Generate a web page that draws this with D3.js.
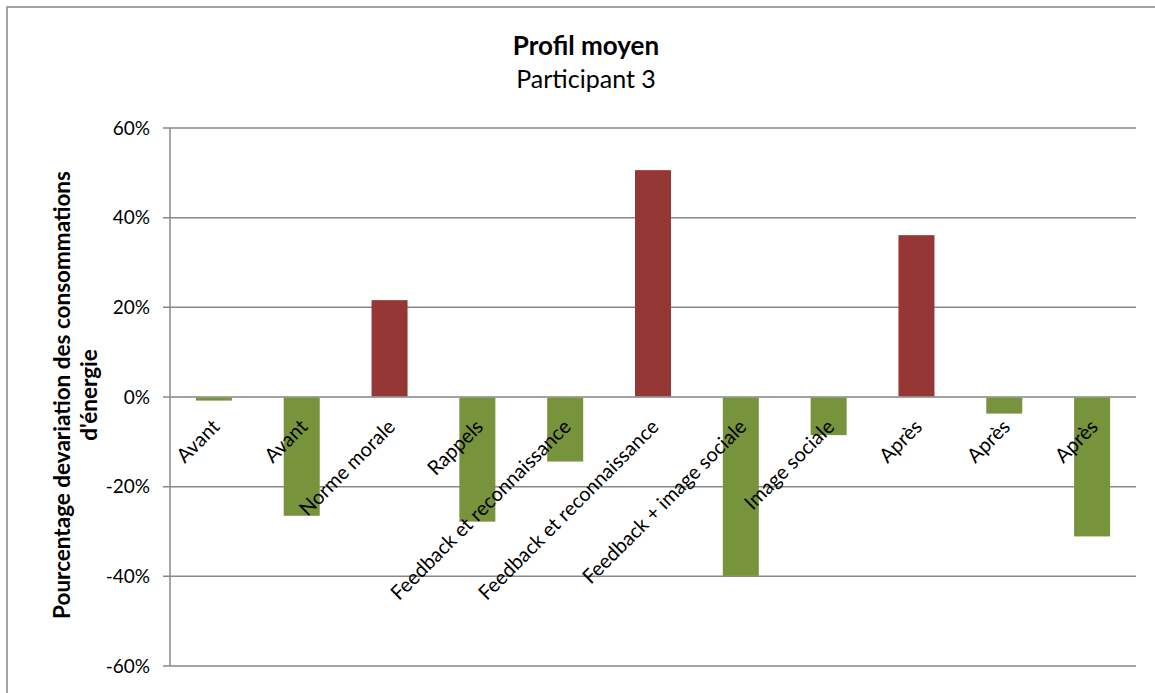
<!DOCTYPE html>
<html><head><meta charset="utf-8">
<script src="https://cdn.jsdelivr.net/npm/d3@7"></script>
<style>body{margin:0;background:#fff}svg{display:block}</style>
</head><body>
<svg id="c" width="1155" height="693"></svg>
<script>
const categories = ["Avant","Avant","Norme morale","Rappels","Feedback et reconnaissance","Feedback et reconnaissance","Feedback + image sociale","Image sociale","Après","Après","Après"];
const values = [-0.8,-26.5,21.6,-27.8,-14.4,50.6,-39.9,-8.5,36.1,-3.7,-31.1];
const yTicks = [-60,-40,-20,0,20,40,60];
const title = "Profil moyen";
const subtitle = "Participant 3";
const yTitle = ["Pourcentage devariation des consommations","d'énergie"];

(function(){
const svg = d3.select("#c");
const font = "Lato, 'Liberation Sans', sans-serif";
const grid = "#888888";
const pLeft = 170, pRight = 1136, pTop = 128, pBottom = 666;

svg.append("rect").attr("x",7).attr("y",7).attr("width",1160).attr("height",700)
  .attr("fill","none").attr("stroke","#878787").attr("stroke-width",1.5);

const x = d3.scaleBand().domain(d3.range(categories.length)).range([pLeft,pRight]).paddingInner(0.59).paddingOuter(0.295);
const y = d3.scaleLinear().domain([-60,60]).range([pBottom,pTop]);

svg.append("g").selectAll("line").data(yTicks).join("line")
  .attr("x1",pLeft-7).attr("x2",pRight).attr("y1",d=>y(d)).attr("y2",d=>y(d))
  .attr("stroke",grid).attr("stroke-width",1.5);
svg.append("line").attr("x1",pLeft).attr("x2",pLeft).attr("y1",pTop).attr("y2",pBottom)
  .attr("stroke",grid).attr("stroke-width",1.5);

svg.append("g").selectAll("rect").data(values).join("rect")
  .attr("x",(d,i)=>x(i)).attr("width",x.bandwidth())
  .attr("y",d=>y(Math.max(0,d))).attr("height",d=>Math.abs(y(d)-y(0)))
  .attr("fill",d=>d>=0?"#953735":"#77933C");

svg.append("line").attr("x1",pLeft).attr("x2",pRight).attr("y1",y(0)).attr("y2",y(0))
  .attr("stroke","#a0a0a0").attr("stroke-width",1.5);

svg.append("g").selectAll("text").data(yTicks).join("text")
  .attr("x",150).attr("y",d=>y(d)).attr("dy","0.35em").attr("text-anchor","end")
  .attr("font-family",font).attr("font-size",19).attr("fill","#000")
  .text(d=>d+"%");

svg.append("g").selectAll("text").data(categories).join("text")
  .attr("transform",(d,i)=>`translate(${x(i)+x.bandwidth()/2+7},${428}) rotate(-45)`)
  .attr("text-anchor","end").attr("font-family",font).attr("font-size",20).attr("fill","#000")
  .text(d=>d);

svg.append("text").attr("x",586).attr("y",55).attr("text-anchor","middle")
  .attr("font-family",font).attr("font-weight","bold").attr("font-size",26).text(title);
svg.append("text").attr("x",586).attr("y",88).attr("text-anchor","middle")
  .attr("font-family",font).attr("font-size",25).text(subtitle);

const yt = svg.append("text").attr("transform",`translate(0,395) rotate(-90)`)
  .attr("text-anchor","middle").attr("font-family",font).attr("font-weight","bold").attr("font-size",22.5);
yt.append("tspan").attr("x",0).attr("y",70).text(yTitle[0]);
yt.append("tspan").attr("x",0).attr("y",97).text(yTitle[1]);
})();
</script>
</body></html>
